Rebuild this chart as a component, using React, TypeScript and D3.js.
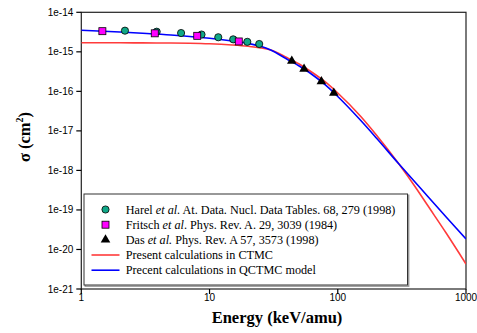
import React, { useEffect, useRef } from 'react';
import * as d3 from 'd3';

// energies (keV/amu) for the two calculated curves
const energies = [1, 2, 3, 5, 7, 10, 15, 20, 25, 30, 40, 50, 60, 80, 100, 150, 200, 300, 400, 500, 700, 1000];
const ctmc = [1.7e-15, 1.69e-15, 1.68e-15, 1.67e-15, 1.65e-15, 1.6e-15, 1.49e-15, 1.38e-15, 1.26e-15, 1.11e-15,
  7.19e-16, 4.92e-16, 3.37e-16, 1.73e-16, 9.08e-17, 2.38e-17, 7.87e-18, 1.45e-18, 3.92e-19, 1.33e-19, 2.61e-20, 4.3e-21];
const qctmc = [3.51e-15, 3.18e-15, 2.96e-15, 2.67e-15, 2.44e-15, 2.21e-15, 1.88e-15, 1.63e-15, 1.38e-15, 1.11e-15,
  6.59e-16, 4.38e-16, 3.0e-16, 1.45e-16, 7.41e-17, 1.88e-17, 6.61e-18, 1.45e-18, 5.09e-19, 2.25e-19, 6.64e-20, 1.84e-20];

// experimental points
const harelE = [2.19, 3.87, 6.0, 8.66, 11.7, 15.3, 19.7, 24.4];
const harelS = [3.43e-15, 3.23e-15, 2.99e-15, 2.74e-15, 2.34e-15, 2.07e-15, 1.79e-15, 1.58e-15];
const fritschE = [1.46, 3.74, 8.02, 16.9];
const fritschS = [3.33e-15, 2.94e-15, 2.54e-15, 1.83e-15];
const dasE = [43.8, 54.6, 74.5, 93.1];
const dasS = [5.86e-16, 3.68e-16, 1.78e-16, 9.08e-17];

const xTicks = [1, 10, 100, 1000];
const yTicks = [1e-14, 1e-15, 1e-16, 1e-17, 1e-18, 1e-19, 1e-20, 1e-21];

const W = 477;
const H = 333;

const App: React.FC = () => {
  const svgRef = useRef<SVGSVGElement | null>(null);

  useEffect(() => {
    if (!svgRef.current) return;
    const svg = d3.select(svgRef.current);
    svg.selectAll('*').remove();

    const x = d3.scaleLog().domain([1, 1000]).range([81.3, 466]);
    const y = d3.scaleLog().domain([1e-21, 1e-14]).range([289, 12.3]);

    const g = svg.append('g');
    const sans = "'Liberation Sans', Arial, sans-serif";
    const serif = "'Liberation Serif', 'Times New Roman', serif";

    // frame
    g.append('rect')
      .attr('x', x(1)).attr('y', y(1e-14))
      .attr('width', x(1000) - x(1)).attr('height', y(1e-21) - y(1e-14))
      .attr('fill', 'none').attr('stroke', '#222').attr('stroke-width', 1.2);

    // y ticks
    yTicks.forEach(t => {
      g.append('line').attr('x1', x(1) - 5).attr('x2', x(1))
        .attr('y1', y(t)).attr('y2', y(t)).attr('stroke', '#000').attr('stroke-width', 1.2);
      g.append('text').attr('x', x(1) - 8).attr('y', y(t) + 3.5)
        .attr('text-anchor', 'end').attr('font-family', sans)
        .attr('font-size', 10).text(d3.format('.0e')(t));
    });

    // x ticks
    xTicks.forEach(t => {
      g.append('line').attr('x1', x(t)).attr('x2', x(t))
        .attr('y1', y(1e-21)).attr('y2', y(1e-21) + 5).attr('stroke', '#000').attr('stroke-width', 1.2);
      g.append('text').attr('x', x(t)).attr('y', 300.5)
        .attr('text-anchor', 'middle').attr('font-family', sans)
        .attr('font-size', 10).text(t);
    });

    // axis titles
    g.append('text').attr('x', 277).attr('y', 323)
      .attr('text-anchor', 'middle').attr('font-family', serif)
      .attr('font-weight', 'bold').attr('font-size', 16.5).text('Energy (keV/amu)');

    const yl = g.append('text').attr('transform', 'translate(30,137) rotate(-90)')
      .attr('text-anchor', 'middle').attr('font-family', serif)
      .attr('font-weight', 'bold').attr('font-size', 16.5);
    yl.append('tspan').text('σ (cm');
    yl.append('tspan').attr('dy', -7).attr('font-size', 10).text('2');
    yl.append('tspan').attr('dy', 7).text(')');

    // curves
    const line = d3.line<[number, number]>().x(d => x(d[0])).y(d => y(d[1])).curve(d3.curveMonotoneX);
    const clip = svg.append('defs').append('clipPath').attr('id', 'plot');
    clip.append('rect').attr('x', x(1)).attr('y', y(1e-14)).attr('width', x(1000) - x(1)).attr('height', y(1e-21) - y(1e-14));

    g.append('path').datum(energies.map((e, i) => [e, ctmc[i]] as [number, number]))
      .attr('d', line).attr('fill', 'none').attr('stroke', '#ff3b3b').attr('stroke-width', 1.6)
      .attr('clip-path', 'url(#plot)');
    g.append('path').datum(energies.map((e, i) => [e, qctmc[i]] as [number, number]))
      .attr('d', line).attr('fill', 'none').attr('stroke', '#0000ff').attr('stroke-width', 1.6)
      .attr('clip-path', 'url(#plot)');

    // markers
    const tri = d3.symbol().type(d3.symbolTriangle).size(40);
    harelE.forEach((e, i) => {
      g.append('circle').attr('cx', x(e)).attr('cy', y(harelS[i])).attr('r', 3.6)
        .attr('fill', '#10a888').attr('stroke', '#000').attr('stroke-width', 0.8);
    });
    fritschE.forEach((e, i) => {
      g.append('rect').attr('x', x(e) - 3.5).attr('y', y(fritschS[i]) - 3.5).attr('width', 7).attr('height', 7)
        .attr('fill', '#ff00ff').attr('stroke', '#000').attr('stroke-width', 0.8);
    });
    dasE.forEach((e, i) => {
      g.append('path').attr('d', tri).attr('transform', `translate(${x(e)},${y(dasS[i])})`).attr('fill', '#000');
    });

    // legend
    const lx = 84, ly = 194, lw = 323.5, lh = 91;
    g.append('rect').attr('x', lx + 1.2).attr('y', ly + 1.2).attr('width', lw).attr('height', lh)
      .attr('fill', 'none').attr('stroke', '#999').attr('stroke-width', 1.4);
    g.append('rect').attr('x', lx).attr('y', ly).attr('width', lw).attr('height', lh)
      .attr('fill', '#fff').attr('stroke', '#333').attr('stroke-width', 1);

    const rows = [209.5, 224.7, 239.8, 255, 270.2];
    const tx = 125.7;
    g.append('circle').attr('cx', 105.5).attr('cy', rows[0]).attr('r', 3.6)
      .attr('fill', '#10a888').attr('stroke', '#000').attr('stroke-width', 0.8);
    g.append('rect').attr('x', 102).attr('y', rows[1] - 3.5).attr('width', 7).attr('height', 7)
      .attr('fill', '#ff00ff').attr('stroke', '#000').attr('stroke-width', 0.8);
    g.append('path').attr('d', tri).attr('transform', `translate(105.5,${rows[2]})`).attr('fill', '#000');
    g.append('line').attr('x1', 91.5).attr('x2', 119.5).attr('y1', rows[3]).attr('y2', rows[3])
      .attr('stroke', '#ff3b3b').attr('stroke-width', 1.6);
    g.append('line').attr('x1', 91.5).attr('x2', 119.5).attr('y1', rows[4]).attr('y2', rows[4])
      .attr('stroke', '#0000ff').attr('stroke-width', 1.6);

    const labels: [string, string, string][] = [
      ['Harel ', 'et al.', ' At. Data. Nucl. Data Tables. 68, 279 (1998)'],
      ['Fritsch ', 'et al', '. Phys. Rev. A. 29, 3039 (1984)'],
      ['Das ', 'et al.', ' Phys. Rev. A 57, 3573 (1998)'],
      ['Present calculations in CTMC', '', ''],
      ['Precent calculations in QCTMC model', '', ''],
    ];
    labels.forEach((l, i) => {
      const t = g.append('text').attr('x', tx).attr('y', rows[i] + 4)
        .attr('font-family', serif).attr('font-size', 12.2);
      t.append('tspan').text(l[0]);
      if (l[1]) t.append('tspan').attr('font-style', 'italic').text(l[1]);
      if (l[2]) t.append('tspan').text(l[2]);
    });
  }, []);

  return (
    <div style={{ position: 'absolute', left: 0, top: 0, background: '#fff' }}>
      <svg ref={svgRef} width={W} height={H} />
    </div>
  );
};

export default App;
